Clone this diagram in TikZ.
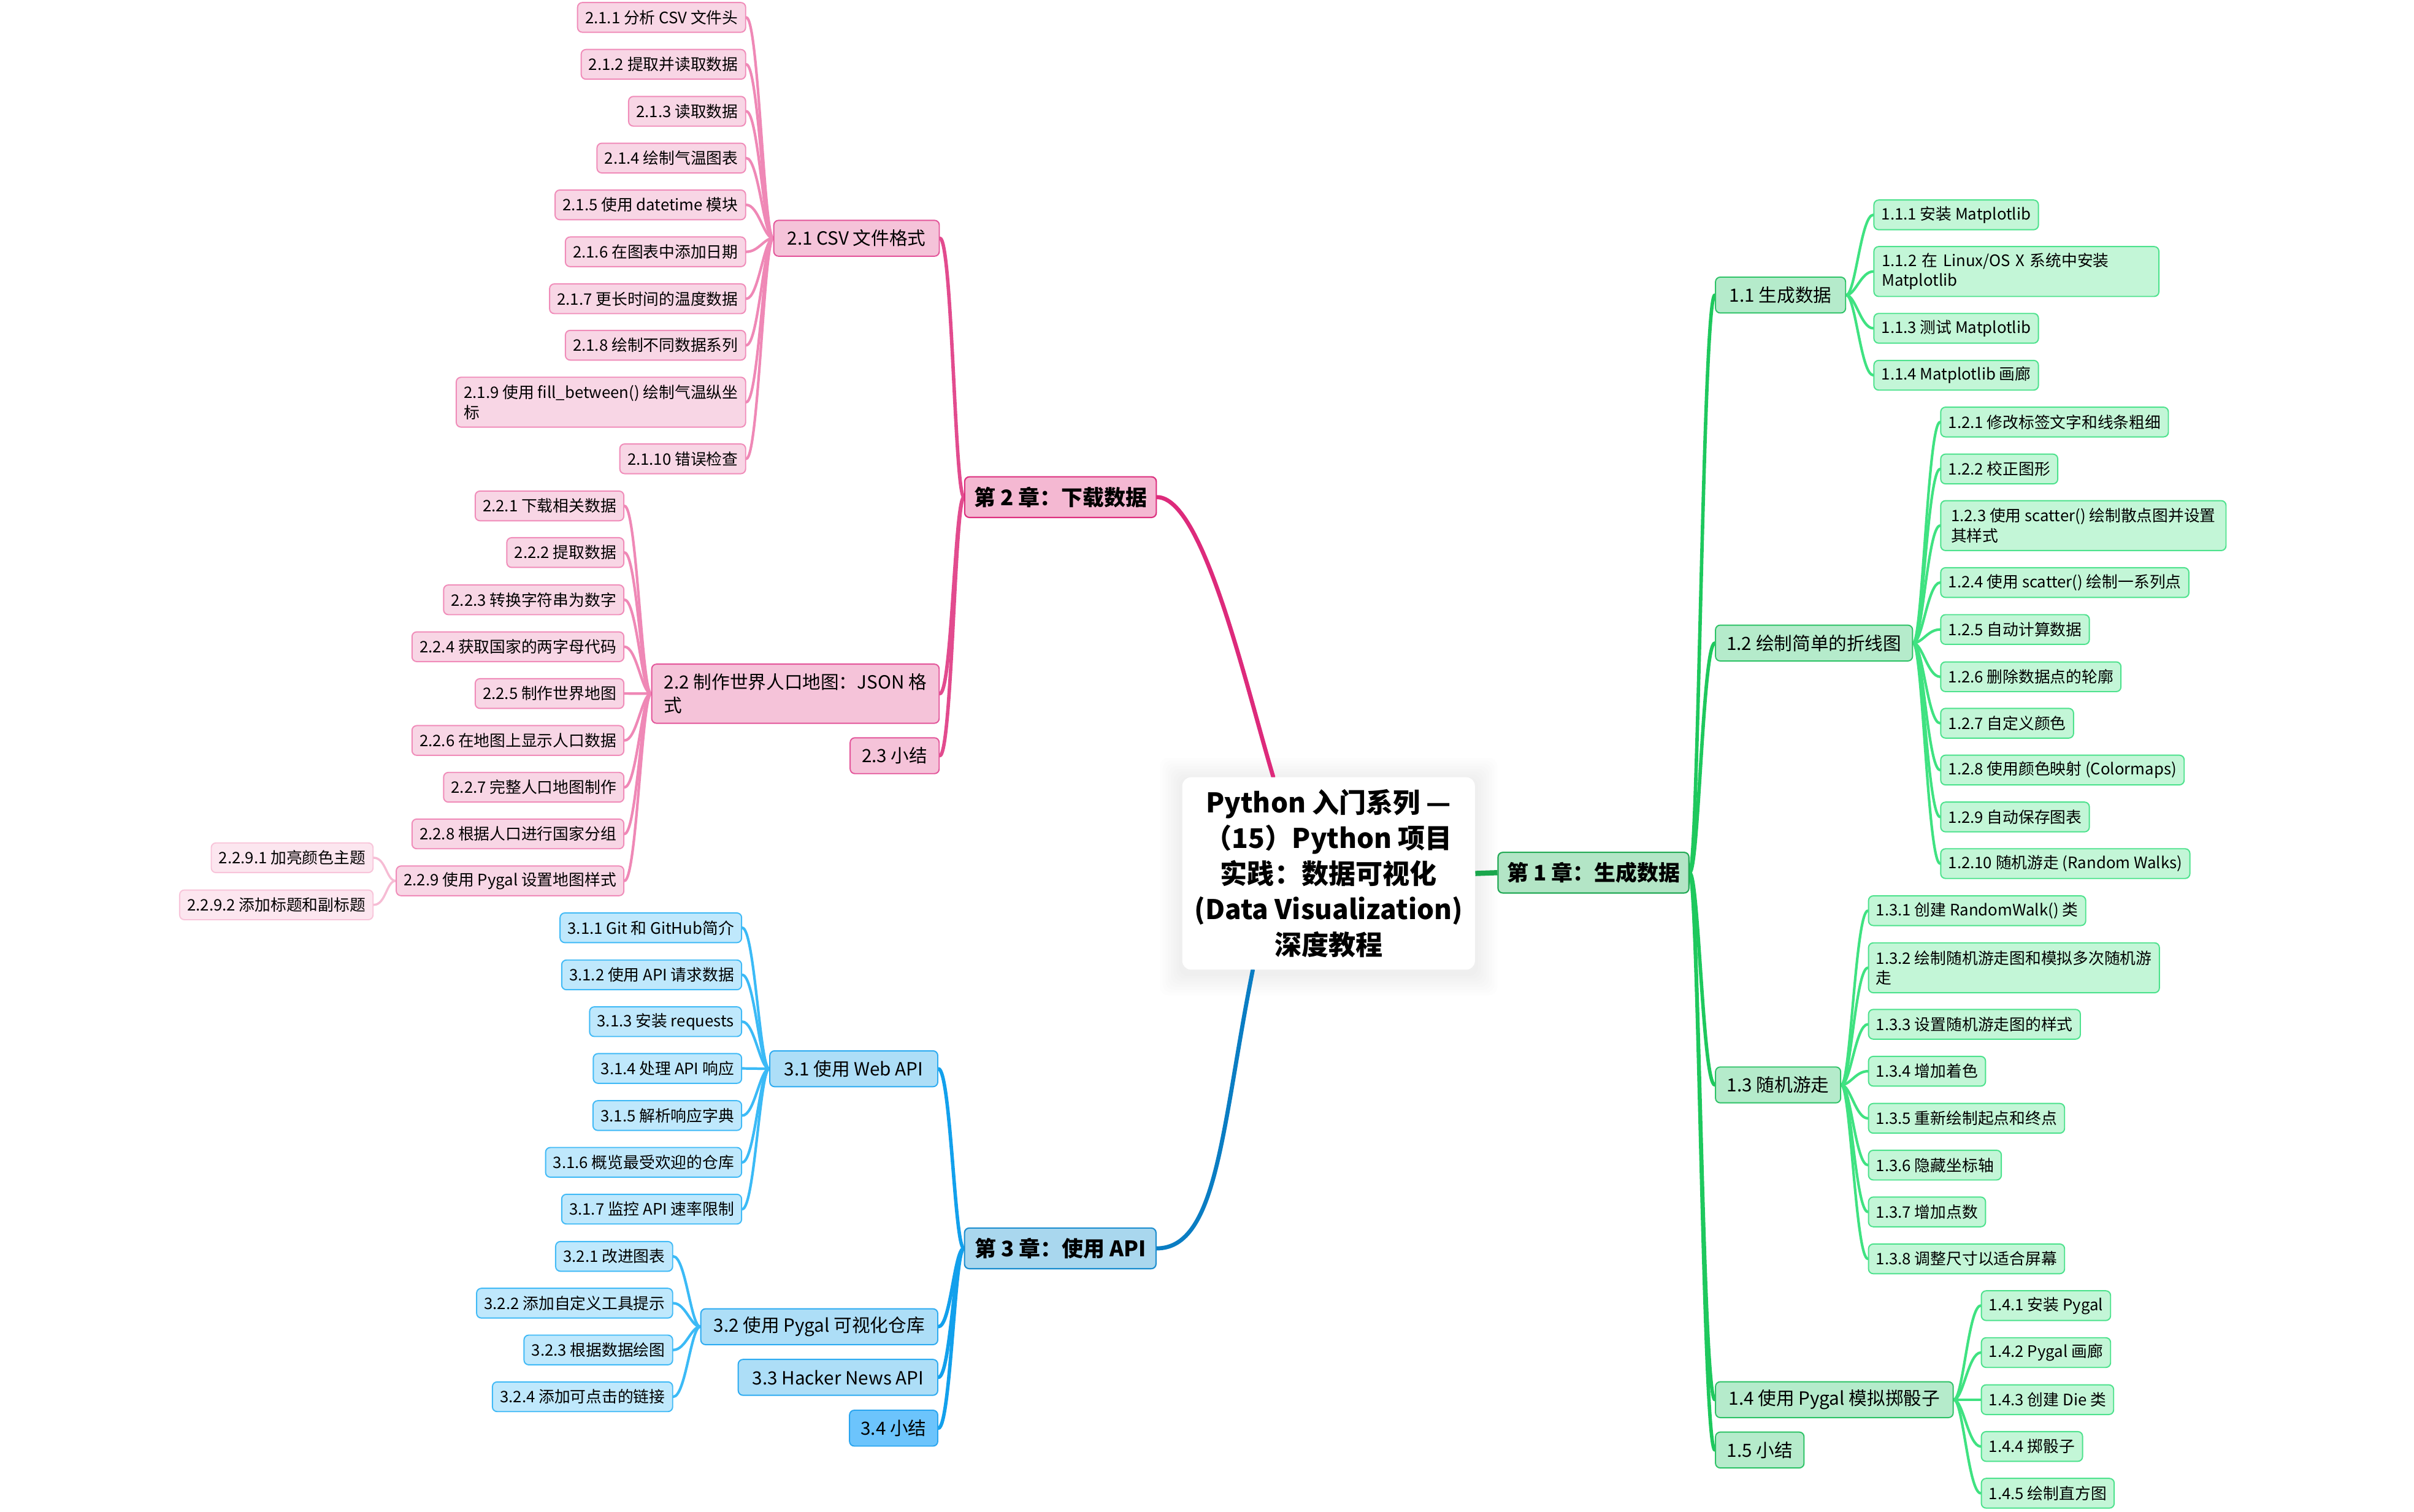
\documentclass[tikz,border=0pt]{standalone}
\usepackage{fontspec}
\setmainfont{Noto Sans CJK SC}
\usetikzlibrary{backgrounds}
\newlength\px
\setlength\px{0.025cm}
% pink
\definecolor{chPf}{HTML}{F4B8D2}\definecolor{chPd}{HTML}{DC2F7E}
\definecolor{l1Pf}{HTML}{F5C3D9}\definecolor{l1Pd}{HTML}{E3559A}
\definecolor{lfPf}{HTML}{F8D6E5}\definecolor{lfPd}{HTML}{F08CB9}
\definecolor{l3Pf}{HTML}{FCE6EF}\definecolor{l3Pd}{HTML}{F8C4D9}
\definecolor{cRootP}{HTML}{DD2A7B}\definecolor{cChP}{HTML}{E24B8E}
\definecolor{cLfP}{HTML}{EF88B6}\definecolor{cL3P}{HTML}{F6BCD4}
% blue
\definecolor{chBf}{HTML}{A9D7EE}\definecolor{chBd}{HTML}{1D8ECF}
\definecolor{l1Bf}{HTML}{ADDEF7}\definecolor{l1Bd}{HTML}{2DABF1}
\definecolor{lfBf}{HTML}{BFE8FC}\definecolor{lfBd}{HTML}{41BAF6}
\definecolor{l4Bf}{HTML}{6CC4FC}\definecolor{l4Bd}{HTML}{2AA5EF}
\definecolor{cRootB}{HTML}{0A7DC3}\definecolor{cChB}{HTML}{12A0EC}
\definecolor{cLfB}{HTML}{3BBAF6}
% green
\definecolor{chGf}{HTML}{B3E5C6}\definecolor{chGd}{HTML}{23AA56}
\definecolor{l1Gf}{HTML}{B5EBCB}\definecolor{l1Gd}{HTML}{2EC367}
\definecolor{lfGf}{HTML}{C3F6D7}\definecolor{lfGd}{HTML}{4DE28D}
\definecolor{cRootG}{HTML}{1AA64D}\definecolor{cChG}{HTML}{1EC85D}
\definecolor{cLfG}{HTML}{3FE281}
\tikzset{
  box/.style={rounded corners=2.2pt, line width=0.55pt, inner xsep=3.5pt, inner ysep=0pt, text=black},
  leaf/.style={box, minimum height=19.3\px, font=\fontsize{7.3}{9.2}\selectfont},
  leaftwo/.style={leaf, minimum height=32.4\px, align=left},
  sub/.style={box, minimum height=23.3\px, font=\fontsize{8.4}{10.8}\selectfont},
  chap/.style={box, minimum height=26.4\px, line width=0.6pt, font=\bfseries\fontsize{9.9}{12}\selectfont},
  rootnode/.style={fill=white, rounded corners=4pt, minimum width=190\px, minimum height=125\px, inner sep=0pt, align=center, font=\bfseries\fontsize{12.5}{16.4}\selectfont},
  pLf/.style={fill=lfPf, draw=lfPd}, pSub/.style={fill=l1Pf, draw=l1Pd}, pCh/.style={fill=chPf, draw=chPd}, pL3/.style={fill=l3Pf, draw=l3Pd},
  bLf/.style={fill=lfBf, draw=lfBd}, bSub/.style={fill=l1Bf, draw=l1Bd}, bCh/.style={fill=chBf, draw=chBd}, bSum/.style={fill=l4Bf, draw=l4Bd},
  gLf/.style={fill=lfGf, draw=lfGd}, gSub/.style={fill=l1Gf, draw=l1Gd}, gCh/.style={fill=chGf, draw=chGd},
  wRoot/.style={line width=1.9pt, line cap=round},
  wCh/.style={line width=1.6pt, line cap=round},
  wLf/.style={line width=1.2pt, line cap=round},
  wL3/.style={line width=1pt, line cap=round}
}
\newcommand\connL[3]{\draw[#1] (#2.west) .. controls +(-6,0) and +(8,0) .. (#3.east);}
\newcommand\connR[3]{\draw[#1] (#2.east) .. controls +(6,0) and +(-8,0) .. (#3.west);}
\begin{document}
\begin{tikzpicture}[x=0.025cm, y=-0.025cm]
\useasboundingbox (0,0) rectangle (1568,982);
% root
\node[rootnode] (root) at (863,567.5) {Python 入门系列 —\\（15）Python 项目\\实践：数据可视化\\(Data Visualization)\\深度教程};
% chapters
\node[chap, pCh, anchor=east, minimum width=124.5\px] (ch2) at (751.5,323) {第 2 章：下载数据};
\node[chap, bCh, anchor=east, minimum width=124.4\px] (ch3) at (751.3,811.1) {第 3 章：使用 API};
\node[chap, gCh, anchor=west, minimum width=124\px] (ch1) at (972.6,567) {第 1 章：生成数据};
% chapter 2
\node[sub, pSub, anchor=east, minimum width=107.5\px] (p21) at (610.5,154.8) {2.1 CSV 文件格式};
\node[sub, pSub, anchor=east, minimum width=186.7\px, minimum height=38.4\px, align=left] (p22) at (610.4,450.7) {2.2 制作世界人口地图：JSON 格\\式};
\node[sub, pSub, anchor=east, minimum width=57.8\px] (p23) at (610.4,491) {2.3 小结};
\node[leaf, pLf, anchor=east, minimum width=107.9\px] (p211) at (484.7,11.3) {2.1.1 分析 CSV 文件头};
\node[leaf, pLf, anchor=east, minimum width=102.9\px] (p212) at (484.7,41.8) {2.1.2 提取并读取数据};
\node[leaf, pLf, anchor=east, minimum width=73.7\px] (p213) at (484.7,72.3) {2.1.3 读取数据};
\node[leaf, pLf, anchor=east, minimum width=93.1\px] (p214) at (484.7,102.7) {2.1.4 绘制气温图表};
\node[leaf, pLf, anchor=east, minimum width=121.2\px] (p215) at (484.7,133.1) {2.1.5 使用 datetime 模块};
\node[leaf, pLf, anchor=east, minimum width=112.8\px] (p216) at (484.7,163.6) {2.1.6 在图表中添加日期};
\node[leaf, pLf, anchor=east, minimum width=122.8\px] (p217) at (484.7,194.1) {2.1.7 更长时间的温度数据};
\node[leaf, pLf, anchor=east, minimum width=112.8\px] (p218) at (484.7,224.3) {2.1.8 绘制不同数据系列};
\node[leaftwo, pLf, anchor=east, minimum width=185.2\px] (p219) at (484.7,261.3) {2.1.9 使用 fill\_between() 绘制气温纵坐\\标};
\node[leaf, pLf, anchor=east, minimum width=78.9\px] (p2110) at (484.7,298.1) {2.1.10 错误检查};
\node[leaf, pLf, anchor=east, minimum width=93.1\px] (p221) at (405.6,328.7) {2.2.1 下载相关数据};
\node[leaf, pLf, anchor=east, minimum width=73.4\px] (p222) at (405.6,359) {2.2.2 提取数据};
\node[leaf, pLf, anchor=east, minimum width=113.1\px] (p223) at (405.6,389.7) {2.2.3 转换字符串为数字};
\node[leaf, pLf, anchor=east, minimum width=132.9\px] (p224) at (405.6,420.2) {2.2.4 获取国家的两字母代码};
\node[leaf, pLf, anchor=east, minimum width=93.1\px] (p225) at (405.6,450.6) {2.2.5 制作世界地图};
\node[leaf, pLf, anchor=east, minimum width=132.9\px] (p226) at (405.6,481.1) {2.2.6 在地图上显示人口数据};
\node[leaf, pLf, anchor=east, minimum width=113.1\px] (p227) at (405.6,511.5) {2.2.7 完整人口地图制作};
\node[leaf, pLf, anchor=east, minimum width=132.9\px] (p228) at (405.6,541.8) {2.2.8 根据人口进行国家分组};
\node[leaf, pLf, anchor=east, minimum width=143.8\px] (p229) at (405.6,572.3) {2.2.9 使用 Pygal 设置地图样式};
\node[leaf, pL3, anchor=east, minimum width=99.7\px] (p2291) at (242.7,557.3) {2.2.9.1 加亮颜色主题};
\node[leaf, pL3, anchor=east, minimum width=119.7\px] (p2292) at (242.7,587.9) {2.2.9.2 添加标题和副标题};
% chapter 3
\node[sub, bSub, anchor=east, minimum width=109.1\px] (b31) at (609.5,694.4) {3.1 使用 Web API};
\node[sub, bSub, anchor=east, minimum width=153.9\px] (b32) at (609.5,862) {3.2 使用 Pygal 可视化仓库};
\node[sub, bSub, anchor=east, minimum width=129.6\px] (b33) at (609.5,894.9) {3.3 Hacker News API};
\node[sub, bSum, anchor=east, minimum width=57.3\px] (b34) at (609.5,927.9) {3.4 小结};
\node[leaf, bLf, anchor=east, minimum width=116.5\px] (b311) at (482.1,602.8) {3.1.1 Git 和 GitHub简介};
\node[leaf, bLf, anchor=east, minimum width=115\px] (b312) at (482.1,633.4) {3.1.2 使用 API 请求数据};
\node[leaf, bLf, anchor=east, minimum width=96.7\px] (b313) at (482.1,663.8) {3.1.3 安装 requests};
\node[leaf, bLf, anchor=east, minimum width=95.2\px] (b314) at (482.1,694.2) {3.1.4 处理 API 响应};
\node[leaf, bLf, anchor=east, minimum width=93\px] (b315) at (482.1,724.8) {3.1.5 解析响应字典};
\node[leaf, bLf, anchor=east, minimum width=122.6\px] (b316) at (482.1,755.2) {3.1.6 概览最受欢迎的仓库};
\node[leaf, bLf, anchor=east, minimum width=115\px] (b317) at (482.1,785.6) {3.1.7 监控 API 速率限制};
\node[leaf, bLf, anchor=east, minimum width=73.8\px] (b321) at (437.3,816.3) {3.2.1 改进图表};
\node[leaf, bLf, anchor=east, minimum width=122.9\px] (b322) at (437.3,846.7) {3.2.2 添加自定义工具提示};
\node[leaf, bLf, anchor=east, minimum width=93.6\px] (b323) at (437.3,877.1) {3.2.3 根据数据绘图};
\node[leaf, bLf, anchor=east, minimum width=112.9\px] (b324) at (437.3,907.5) {3.2.4 添加可点击的链接};
% chapter 1
\node[sub, gSub, anchor=west, minimum width=84.5\px] (g11) at (1113.9,191.7) {1.1 生成数据};
\node[sub, gSub, anchor=west, minimum width=128\px] (g12) at (1113.9,417.8) {1.2 绘制简单的折线图};
\node[sub, gSub, anchor=west, minimum width=81.3\px] (g13) at (1113.9,704.9) {1.3 随机游走};
\node[sub, gSub, anchor=west, minimum width=154.4\px] (g14) at (1113.9,909.4) {1.4 使用 Pygal 模拟掷骰子};
\node[sub, gSub, anchor=west, minimum width=57.5\px] (g15) at (1113.9,942.1) {1.5 小结};
\node[leaf, gLf, anchor=west, minimum width=105.1\px] (g111) at (1216.8,139.6) {1.1.1 安装 Matplotlib};
\node[leaftwo, gLf, anchor=west, minimum width=185.1\px, text width=175\px] (g112) at (1216.8,176.4) {1.1.2 在 Linux/OS X 系统中安装\\Matplotlib};
\node[leaf, gLf, anchor=west, minimum width=105.1\px] (g113) at (1216.8,213.3) {1.1.3 测试 Matplotlib};
\node[leaf, gLf, anchor=west, minimum width=105.1\px] (g114) at (1216.8,243.8) {1.1.4 Matplotlib 画廊};
\node[leaf, gLf, anchor=west, minimum width=142.5\px] (g121) at (1260.2,274.2) {1.2.1 修改标签文字和线条粗细};
\node[leaf, gLf, anchor=west, minimum width=73.9\px] (g122) at (1260.2,304.7) {1.2.2 校正图形};
\node[leaftwo, gLf, anchor=west, minimum width=185.3\px] (g123) at (1260.2,341.5) {1.2.3 使用 scatter() 绘制散点图并设置\\其样式};
\node[leaf, gLf, anchor=west, minimum width=157.2\px] (g124) at (1260.2,378.5) {1.2.4 使用 scatter() 绘制一系列点};
\node[leaf, gLf, anchor=west, minimum width=93.8\px] (g125) at (1260.2,409) {1.2.5 自动计算数据};
\node[leaf, gLf, anchor=west, minimum width=113.2\px] (g126) at (1260.2,439.7) {1.2.6 删除数据点的轮廓};
\node[leaf, gLf, anchor=west, minimum width=83.5\px] (g127) at (1260.2,469.9) {1.2.7 自定义颜色};
\node[leaf, gLf, anchor=west, minimum width=154\px] (g128) at (1260.2,500.3) {1.2.8 使用颜色映射 (Colormaps)};
\node[leaf, gLf, anchor=west, minimum width=93.8\px] (g129) at (1260.2,530.8) {1.2.9 自动保存图表};
\node[leaf, gLf, anchor=west, minimum width=159\px] (g1210) at (1260.2,561.1) {1.2.10 随机游走 (Random Walks)};
\node[leaf, gLf, anchor=west, minimum width=138.4\px] (g131) at (1213.3,591.7) {1.3.1 创建 RandomWalk() 类};
\node[leaftwo, gLf, anchor=west, minimum width=185.3\px] (g132) at (1213.3,628.8) {1.3.2 绘制随机游走图和模拟多次随机游\\走};
\node[leaf, gLf, anchor=west, minimum width=132.7\px] (g133) at (1213.3,665.5) {1.3.3 设置随机游走图的样式};
\node[leaf, gLf, anchor=west, minimum width=73.3\px] (g134) at (1213.3,696) {1.3.4 增加着色};
\node[leaf, gLf, anchor=west, minimum width=122.7\px] (g135) at (1213.3,726.6) {1.3.5 重新绘制起点和终点};
\node[leaf, gLf, anchor=west, minimum width=83.5\px] (g136) at (1213.3,757) {1.3.6 隐藏坐标轴};
\node[leaf, gLf, anchor=west, minimum width=73.3\px] (g137) at (1213.3,787.4) {1.3.7 增加点数};
\node[leaf, gLf, anchor=west, minimum width=122.7\px] (g138) at (1213.3,817.9) {1.3.8 调整尺寸以适合屏幕};
\node[leaf, gLf, anchor=west, minimum width=82.3\px] (g141) at (1286.6,848.3) {1.4.1 安装 Pygal};
\node[leaf, gLf, anchor=west, minimum width=82.3\px] (g142) at (1286.6,878.8) {1.4.2 Pygal 画廊};
\node[leaf, gLf, anchor=west, minimum width=84.8\px] (g143) at (1286.6,909.4) {1.4.3 创建 Die 类};
\node[leaf, gLf, anchor=west, minimum width=63.4\px] (g144) at (1286.6,939.8) {1.4.4 掷骰子};
\node[leaf, gLf, anchor=west, minimum width=83.4\px] (g145) at (1286.6,970.2) {1.4.5 绘制直方图};
\begin{scope}[on background layer]
\fill[white] (0,0) rectangle (1568,982);
\foreach \s in {1,...,8} {
  \fill[black, opacity=0.009, rounded corners=4pt] ([xshift={-\s*0.045cm}, yshift={-\s*0.045cm-0.05cm}]root.south west) rectangle ([xshift={\s*0.045cm}, yshift={\s*0.045cm-0.05cm}]root.north east);
}
% root connectors
\draw[wRoot, cRootP] ([xshift=59.3\px]root.north west) .. controls +(-18,-60) and +(30,0) .. (ch2.east);
\draw[wRoot, cRootB] ([xshift=46\px]root.south west) .. controls +(-20,100) and +(40,0) .. (ch3.east);
\draw[line width=2.4pt, cRootG] (root.east) -- (ch1.west);
% chapter 2
\foreach \n in {p21,p22,p23} {\connL{wCh,cChP}{ch2}{\n}}
\foreach \n in {p211,p212,p213,p214,p215,p216,p217,p218,p219,p2110} {\connL{wLf,cLfP}{p21}{\n}}
\foreach \n in {p221,p222,p223,p224,p225,p226,p227,p228,p229} {\connL{wLf,cLfP}{p22}{\n}}
\foreach \n in {p2291,p2292} {\connL{wL3,cL3P}{p229}{\n}}
% chapter 3
\foreach \n in {b31,b32,b33,b34} {\connL{wCh,cChB}{ch3}{\n}}
\foreach \n in {b311,b312,b313,b314,b315,b316,b317} {\connL{wLf,cLfB}{b31}{\n}}
\foreach \n in {b321,b322,b323,b324} {\connL{wLf,cLfB}{b32}{\n}}
% chapter 1
\foreach \n in {g11,g12,g13,g14,g15} {\connR{wCh,cChG}{ch1}{\n}}
\foreach \n in {g111,g112,g113,g114} {\connR{wLf,cLfG}{g11}{\n}}
\foreach \n in {g121,g122,g123,g124,g125,g126,g127,g128,g129,g1210} {\connR{wLf,cLfG}{g12}{\n}}
\foreach \n in {g131,g132,g133,g134,g135,g136,g137,g138} {\connR{wLf,cLfG}{g13}{\n}}
\foreach \n in {g141,g142,g143,g144,g145} {\connR{wLf,cLfG}{g14}{\n}}
\end{scope}
\end{tikzpicture}
\end{document}
